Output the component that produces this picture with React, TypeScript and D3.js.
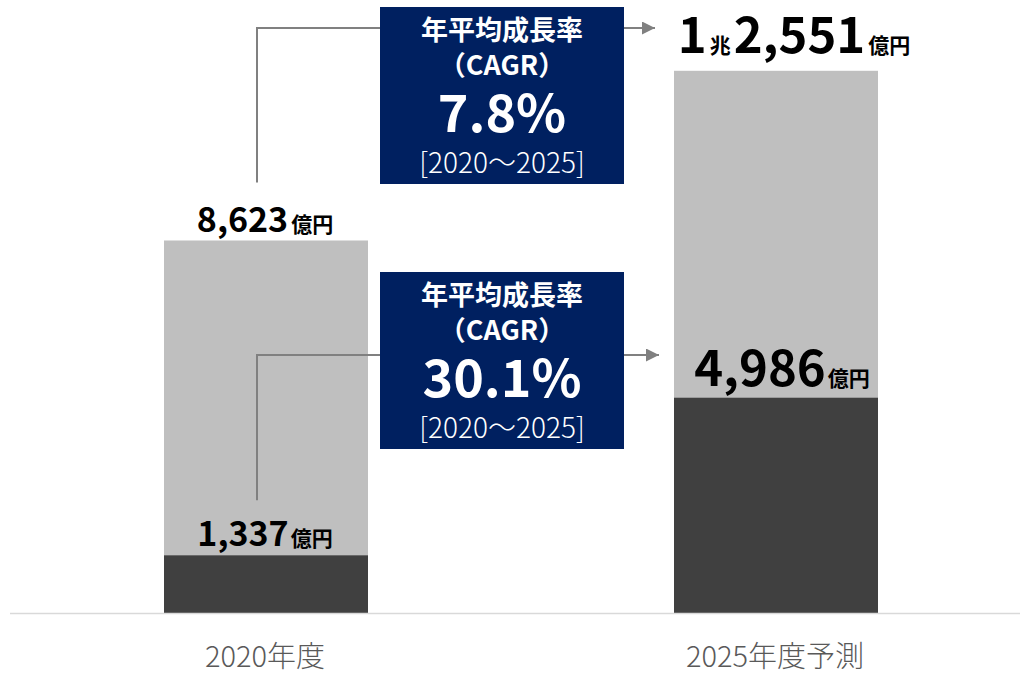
import React from "react";
import * as d3 from "d3";

// chart data
const categories = ["2020年度", "2025年度予測"];
const totals = [8623, 12551];
const lower = [1337, 4986];
const totalLabels = [
  [{ t: "8,623", big: true }, { t: "億円", big: false }],
  [
    { t: "1", big: true },
    { t: "兆", big: false },
    { t: "2,551", big: true },
    { t: "億円", big: false },
  ],
];
const lowerLabels = ["1,337", "4,986"];
const cagrRates = ["7.8%", "30.1%"];
const cagrPeriod = "[2020～2025]";

const W = 1020;
const H = 677;
const baseY = 613;
const barW = 204;
const FONT = "'Noto Sans CJK JP', 'Noto Sans', sans-serif";

const App = () => {
  const x = d3.scalePoint<string>().domain(categories).range([266, 776]);
  const y = d3.scaleLinear().domain([0, 14000]).range([baseY, baseY - 14000 * 0.0432]);

  const bigSize = [34, 49];
  const lowerSize = [34, 49];

  // CAGR boxes
  const boxX = 380;
  const boxW = 244;
  const boxH = 177;
  const boxYs = [7, 272];
  const arrowYs = [28, 355];
  const lineX = (x(categories[0]) as number) - 9;
  const lineBottoms = [y(totals[0]) - 58, y(lower[0]) - 55];

  return (
    <svg width={W} height={H} style={{ position: "absolute", left: 0, top: 0 }}>
      <defs>
        <marker id="arr" viewBox="0 0 10 10" refX="10" refY="5" markerWidth="15" markerHeight="13" markerUnits="userSpaceOnUse" orient="auto">
          <path d="M0,0L10,5L0,10Z" fill="#808080" />
        </marker>
      </defs>
      <rect width={W} height={H} fill="#fff" />

      {/* bars */}
      {categories.map((c, i) => {
        const cx = x(c) as number;
        return (
          <g key={c}>
            <rect x={cx - barW / 2} y={y(totals[i])} width={barW} height={y(lower[i]) - y(totals[i])} fill="#bfbfbf" />
            <rect x={cx - barW / 2} y={y(lower[i])} width={barW} height={baseY - y(lower[i])} fill="#404040" />
          </g>
        );
      })}

      <line x1={10} x2={1020} y1={baseY + 0.5} y2={baseY + 0.5} stroke="#d9d9d9" strokeWidth={1.5} />

      {/* connectors */}
      {[0, 1].map((k) => (
        <g key={k} fill="none" stroke="#808080" strokeWidth={2}>
          <path d={`M${lineX},${lineBottoms[k]}V${arrowYs[k]}H${boxX}`} />
          <line x1={boxX + boxW} x2={k === 0 ? 655 : 659} y1={arrowYs[k]} y2={arrowYs[k]} markerEnd="url(#arr)" />
        </g>
      ))}

      {/* CAGR boxes */}
      {boxYs.map((by, k) => {
        const cx = boxX + boxW / 2;
        return (
          <g key={k} fontFamily={FONT} fill="#fff" textAnchor="middle">
            <rect x={boxX} y={by} width={boxW} height={boxH} fill="#002060" />
            <text x={cx} y={by + 33} fontSize={27} fontWeight={700}>年平均成長率</text>
            <text x={cx} y={by + 68} fontSize={27} fontWeight={700}>（CAGR）</text>
            <text x={cx} y={by + 125} fontSize={52} fontWeight={700}>{cagrRates[k]}</text>
            <text x={cx} y={by + 166} fontSize={28} fontWeight={300}>{cagrPeriod}</text>
          </g>
        );
      })}

      {/* value labels */}
      {categories.map((c, i) => {
        const cx = x(c) as number;
        const topOff = i === 0 ? 8 : 18;
        const lowOff = i === 0 ? 9 : 12;
        return (
          <g key={c} fontFamily={FONT} fill="#000" textAnchor="middle" fontWeight={700}>
            <text x={cx + (i === 0 ? -1 : 18)} y={y(totals[i]) - topOff}>
              {totalLabels[i].map((p, j) => (
                <tspan key={j} fontSize={p.big ? bigSize[i] : 21} dx={p.big ? (j > 0 ? 3 : 0) : 3}>
                  {p.t}
                </tspan>
              ))}
            </text>
            <text x={cx + (i === 0 ? -1 : 6)} y={y(lower[i]) - lowOff}>
              <tspan fontSize={lowerSize[i]}>{lowerLabels[i]}</tspan>
              <tspan fontSize={21} dx={2}>億円</tspan>
            </text>
          </g>
        );
      })}

      {/* category labels */}
      {categories.map((c) => (
        <text key={c} x={(x(c) as number) - 1} y={667} textAnchor="middle" fontFamily={FONT} fontSize={29} fontWeight={300} fill="#595959">
          {c}
        </text>
      ))}
    </svg>
  );
};

export default App;
